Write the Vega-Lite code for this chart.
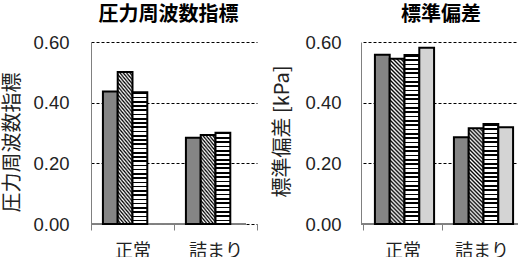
{
  "$schema": "https://vega.github.io/schema/vega-lite/v6.json",
  "padding": {"left": 2, "top": 5, "right": 0, "bottom": 0},
  "background": "white",
  "config": {
    "view": {"stroke": null},
    "font": "Liberation Sans",
    "concat": {"spacing": 14},
    "title": {"font": "Noto Sans CJK JP", "fontSize": 20, "fontWeight": "bold", "color": "#000", "offset": 8},
    "axisY": {
      "grid": true,
      "domainColor": "#808080",
      "ticks": false,
      "labelFontSize": 18.5,
      "labelFont": "Liberation Sans",
      "labelColor": "#222",
      "gridColor": "#000",
      "gridDash": [3, 2],
      "gridWidth": 1,
      "titleFont": "Noto Sans CJK JP",
      "titleFontSize": 20,
      "titleFontWeight": "normal",
      "titleColor": "#222"
    },
    "axisX": {
      "title": null,
      "labelAngle": 0,
      "domain": false,
      "ticks": true,
      "tickBand": "extent",
      "tickSize": 6,
      "tickColor": "#808080",
      "labelPadding": 12,
      "labelFontSize": 18,
      "labelFont": "Noto Sans CJK JP",
      "labelColor": "#222"
    }
  },
  "datasets": {
    "d": [
      {"panel": "p", "cat": "正常", "series": "s1", "value": 0.437},
      {"panel": "p", "cat": "正常", "series": "s2", "value": 0.501},
      {"panel": "p", "cat": "正常", "series": "s3", "value": 0.434},
      {"panel": "p", "cat": "詰まり", "series": "s1", "value": 0.284},
      {"panel": "p", "cat": "詰まり", "series": "s2", "value": 0.293},
      {"panel": "p", "cat": "詰まり", "series": "s3", "value": 0.301},
      {"panel": "s", "cat": "正常", "series": "s1", "value": 0.558},
      {"panel": "s", "cat": "正常", "series": "s2", "value": 0.545},
      {"panel": "s", "cat": "正常", "series": "s3", "value": 0.557},
      {"panel": "s", "cat": "正常", "series": "s4", "value": 0.581},
      {"panel": "s", "cat": "詰まり", "series": "s1", "value": 0.286},
      {"panel": "s", "cat": "詰まり", "series": "s2", "value": 0.316},
      {"panel": "s", "cat": "詰まり", "series": "s3", "value": 0.330},
      {"panel": "s", "cat": "詰まり", "series": "s4", "value": 0.319}
    ]
  },
  "hconcat": [
    {
      "width": 155,
      "height": 182,
      "title": {"text": "圧力周波数指標"},
      "data": {"name": "d"},
      "transform": [{"filter": "datum.panel === 'p'"}],
      "layer": [
        {
          "mark": {"type": "rule", "color": "#808080", "strokeWidth": 1},
          "encoding": {"y": {"datum": 0, "type": "quantitative"}}
        },
        {
          "mark": {"type": "bar", "stroke": "#000", "strokeWidth": 2, "strokeJoin": "miter"},
          "encoding": {
            "x": {"field": "cat", "type": "nominal", "sort": ["正常", "詰まり"], "scale": {"range": [0, 166], "paddingInner": 0, "paddingOuter": 0}},
            "xOffset": {"field": "series", "type": "nominal", "scale": {"paddingInner": 0, "paddingOuter": 0.806}},
            "y": {"field": "value", "type": "quantitative", "scale": {"domain": [0, 0.6]},
              "axis": {"title": "圧力周波数指標", "values": [0, 0.2, 0.4, 0.6], "format": ".2f", "titleY": 100, "grid": true, "labelPadding": 22, "titlePadding": 10}},
            "fill": {
              "condition": [
                {"test": "datum.series === 's3' && datum.cat === '正常'", "value": {"gradient": "linear", "x1": 0, "y1": 0, "x2": 0, "y2": 1, "stops": [
                  {"offset": 0, "color": "#000"}, {"offset": 0.0129, "color": "#000"}, {"offset": 0.0129, "color": "#fff"}, {"offset": 0.0323, "color": "#fff"},
                  {"offset": 0.0323, "color": "#000"}, {"offset": 0.0452, "color": "#000"}, {"offset": 0.0452, "color": "#fff"}, {"offset": 0.0645, "color": "#fff"},
                  {"offset": 0.0645, "color": "#000"}, {"offset": 0.0774, "color": "#000"}, {"offset": 0.0774, "color": "#fff"}, {"offset": 0.0968, "color": "#fff"},
                  {"offset": 0.0968, "color": "#000"}, {"offset": 0.1097, "color": "#000"}, {"offset": 0.1097, "color": "#fff"}, {"offset": 0.1290, "color": "#fff"},
                  {"offset": 0.1290, "color": "#000"}, {"offset": 0.1419, "color": "#000"}, {"offset": 0.1419, "color": "#fff"}, {"offset": 0.1613, "color": "#fff"},
                  {"offset": 0.1613, "color": "#000"}, {"offset": 0.1742, "color": "#000"}, {"offset": 0.1742, "color": "#fff"}, {"offset": 0.1935, "color": "#fff"},
                  {"offset": 0.1935, "color": "#000"}, {"offset": 0.2065, "color": "#000"}, {"offset": 0.2065, "color": "#fff"}, {"offset": 0.2258, "color": "#fff"},
                  {"offset": 0.2258, "color": "#000"}, {"offset": 0.2387, "color": "#000"}, {"offset": 0.2387, "color": "#fff"}, {"offset": 0.2581, "color": "#fff"},
                  {"offset": 0.2581, "color": "#000"}, {"offset": 0.2710, "color": "#000"}, {"offset": 0.2710, "color": "#fff"}, {"offset": 0.2903, "color": "#fff"},
                  {"offset": 0.2903, "color": "#000"}, {"offset": 0.3032, "color": "#000"}, {"offset": 0.3032, "color": "#fff"}, {"offset": 0.3226, "color": "#fff"},
                  {"offset": 0.3226, "color": "#000"}, {"offset": 0.3355, "color": "#000"}, {"offset": 0.3355, "color": "#fff"}, {"offset": 0.3548, "color": "#fff"},
                  {"offset": 0.3548, "color": "#000"}, {"offset": 0.3677, "color": "#000"}, {"offset": 0.3677, "color": "#fff"}, {"offset": 0.3871, "color": "#fff"},
                  {"offset": 0.3871, "color": "#000"}, {"offset": 0.4000, "color": "#000"}, {"offset": 0.4000, "color": "#fff"}, {"offset": 0.4194, "color": "#fff"},
                  {"offset": 0.4194, "color": "#000"}, {"offset": 0.4323, "color": "#000"}, {"offset": 0.4323, "color": "#fff"}, {"offset": 0.4516, "color": "#fff"},
                  {"offset": 0.4516, "color": "#000"}, {"offset": 0.4645, "color": "#000"}, {"offset": 0.4645, "color": "#fff"}, {"offset": 0.4839, "color": "#fff"},
                  {"offset": 0.4839, "color": "#000"}, {"offset": 0.4968, "color": "#000"}, {"offset": 0.4968, "color": "#fff"}, {"offset": 0.5161, "color": "#fff"},
                  {"offset": 0.5161, "color": "#000"}, {"offset": 0.5290, "color": "#000"}, {"offset": 0.5290, "color": "#fff"}, {"offset": 0.5484, "color": "#fff"},
                  {"offset": 0.5484, "color": "#000"}, {"offset": 0.5613, "color": "#000"}, {"offset": 0.5613, "color": "#fff"}, {"offset": 0.5806, "color": "#fff"},
                  {"offset": 0.5806, "color": "#000"}, {"offset": 0.5935, "color": "#000"}, {"offset": 0.5935, "color": "#fff"}, {"offset": 0.6129, "color": "#fff"},
                  {"offset": 0.6129, "color": "#000"}, {"offset": 0.6258, "color": "#000"}, {"offset": 0.6258, "color": "#fff"}, {"offset": 0.6452, "color": "#fff"},
                  {"offset": 0.6452, "color": "#000"}, {"offset": 0.6581, "color": "#000"}, {"offset": 0.6581, "color": "#fff"}, {"offset": 0.6774, "color": "#fff"},
                  {"offset": 0.6774, "color": "#000"}, {"offset": 0.6903, "color": "#000"}, {"offset": 0.6903, "color": "#fff"}, {"offset": 0.7097, "color": "#fff"},
                  {"offset": 0.7097, "color": "#000"}, {"offset": 0.7226, "color": "#000"}, {"offset": 0.7226, "color": "#fff"}, {"offset": 0.7419, "color": "#fff"},
                  {"offset": 0.7419, "color": "#000"}, {"offset": 0.7548, "color": "#000"}, {"offset": 0.7548, "color": "#fff"}, {"offset": 0.7742, "color": "#fff"},
                  {"offset": 0.7742, "color": "#000"}, {"offset": 0.7871, "color": "#000"}, {"offset": 0.7871, "color": "#fff"}, {"offset": 0.8065, "color": "#fff"},
                  {"offset": 0.8065, "color": "#000"}, {"offset": 0.8194, "color": "#000"}, {"offset": 0.8194, "color": "#fff"}, {"offset": 0.8387, "color": "#fff"},
                  {"offset": 0.8387, "color": "#000"}, {"offset": 0.8516, "color": "#000"}, {"offset": 0.8516, "color": "#fff"}, {"offset": 0.8710, "color": "#fff"},
                  {"offset": 0.8710, "color": "#000"}, {"offset": 0.8839, "color": "#000"}, {"offset": 0.8839, "color": "#fff"}, {"offset": 0.9032, "color": "#fff"},
                  {"offset": 0.9032, "color": "#000"}, {"offset": 0.9161, "color": "#000"}, {"offset": 0.9161, "color": "#fff"}, {"offset": 0.9355, "color": "#fff"},
                  {"offset": 0.9355, "color": "#000"}, {"offset": 0.9484, "color": "#000"}, {"offset": 0.9484, "color": "#fff"}, {"offset": 0.9677, "color": "#fff"},
                  {"offset": 0.9677, "color": "#000"}, {"offset": 0.9806, "color": "#000"}, {"offset": 0.9806, "color": "#fff"}, {"offset": 1, "color": "#fff"}
                ]}},
                {"test": "datum.series === 's3'", "value": {"gradient": "linear", "x1": 0, "y1": 0, "x2": 0, "y2": 1, "stops": [
                  {"offset": 0, "color": "#000"}, {"offset": 0.0190, "color": "#000"}, {"offset": 0.0190, "color": "#fff"}, {"offset": 0.0476, "color": "#fff"},
                  {"offset": 0.0476, "color": "#000"}, {"offset": 0.0667, "color": "#000"}, {"offset": 0.0667, "color": "#fff"}, {"offset": 0.0952, "color": "#fff"},
                  {"offset": 0.0952, "color": "#000"}, {"offset": 0.1143, "color": "#000"}, {"offset": 0.1143, "color": "#fff"}, {"offset": 0.1429, "color": "#fff"},
                  {"offset": 0.1429, "color": "#000"}, {"offset": 0.1619, "color": "#000"}, {"offset": 0.1619, "color": "#fff"}, {"offset": 0.1905, "color": "#fff"},
                  {"offset": 0.1905, "color": "#000"}, {"offset": 0.2095, "color": "#000"}, {"offset": 0.2095, "color": "#fff"}, {"offset": 0.2381, "color": "#fff"},
                  {"offset": 0.2381, "color": "#000"}, {"offset": 0.2571, "color": "#000"}, {"offset": 0.2571, "color": "#fff"}, {"offset": 0.2857, "color": "#fff"},
                  {"offset": 0.2857, "color": "#000"}, {"offset": 0.3048, "color": "#000"}, {"offset": 0.3048, "color": "#fff"}, {"offset": 0.3333, "color": "#fff"},
                  {"offset": 0.3333, "color": "#000"}, {"offset": 0.3524, "color": "#000"}, {"offset": 0.3524, "color": "#fff"}, {"offset": 0.3810, "color": "#fff"},
                  {"offset": 0.3810, "color": "#000"}, {"offset": 0.4000, "color": "#000"}, {"offset": 0.4000, "color": "#fff"}, {"offset": 0.4286, "color": "#fff"},
                  {"offset": 0.4286, "color": "#000"}, {"offset": 0.4476, "color": "#000"}, {"offset": 0.4476, "color": "#fff"}, {"offset": 0.4762, "color": "#fff"},
                  {"offset": 0.4762, "color": "#000"}, {"offset": 0.4952, "color": "#000"}, {"offset": 0.4952, "color": "#fff"}, {"offset": 0.5238, "color": "#fff"},
                  {"offset": 0.5238, "color": "#000"}, {"offset": 0.5429, "color": "#000"}, {"offset": 0.5429, "color": "#fff"}, {"offset": 0.5714, "color": "#fff"},
                  {"offset": 0.5714, "color": "#000"}, {"offset": 0.5905, "color": "#000"}, {"offset": 0.5905, "color": "#fff"}, {"offset": 0.6190, "color": "#fff"},
                  {"offset": 0.6190, "color": "#000"}, {"offset": 0.6381, "color": "#000"}, {"offset": 0.6381, "color": "#fff"}, {"offset": 0.6667, "color": "#fff"},
                  {"offset": 0.6667, "color": "#000"}, {"offset": 0.6857, "color": "#000"}, {"offset": 0.6857, "color": "#fff"}, {"offset": 0.7143, "color": "#fff"},
                  {"offset": 0.7143, "color": "#000"}, {"offset": 0.7333, "color": "#000"}, {"offset": 0.7333, "color": "#fff"}, {"offset": 0.7619, "color": "#fff"},
                  {"offset": 0.7619, "color": "#000"}, {"offset": 0.7810, "color": "#000"}, {"offset": 0.7810, "color": "#fff"}, {"offset": 0.8095, "color": "#fff"},
                  {"offset": 0.8095, "color": "#000"}, {"offset": 0.8286, "color": "#000"}, {"offset": 0.8286, "color": "#fff"}, {"offset": 0.8571, "color": "#fff"},
                  {"offset": 0.8571, "color": "#000"}, {"offset": 0.8762, "color": "#000"}, {"offset": 0.8762, "color": "#fff"}, {"offset": 0.9048, "color": "#fff"},
                  {"offset": 0.9048, "color": "#000"}, {"offset": 0.9238, "color": "#000"}, {"offset": 0.9238, "color": "#fff"}, {"offset": 0.9524, "color": "#fff"},
                  {"offset": 0.9524, "color": "#000"}, {"offset": 0.9714, "color": "#000"}, {"offset": 0.9714, "color": "#fff"}, {"offset": 1, "color": "#fff"}
                ]}},
                {"test": "datum.series === 's2' && datum.cat === '正常'", "value": {"gradient": "linear", "x1": 0, "y1": 1, "x2": 0.1306, "y2": -0.1029, "stops": [
                  {"offset": 0, "color": "#000"}, {"offset": 0.0119, "color": "#fff"}, {"offset": 0.0238, "color": "#000"}, {"offset": 0.0357, "color": "#fff"},
                  {"offset": 0.0476, "color": "#000"}, {"offset": 0.0595, "color": "#fff"}, {"offset": 0.0714, "color": "#000"}, {"offset": 0.0833, "color": "#fff"},
                  {"offset": 0.0952, "color": "#000"}, {"offset": 0.1071, "color": "#fff"}, {"offset": 0.1190, "color": "#000"}, {"offset": 0.1310, "color": "#fff"},
                  {"offset": 0.1429, "color": "#000"}, {"offset": 0.1548, "color": "#fff"}, {"offset": 0.1667, "color": "#000"}, {"offset": 0.1786, "color": "#fff"},
                  {"offset": 0.1905, "color": "#000"}, {"offset": 0.2024, "color": "#fff"}, {"offset": 0.2143, "color": "#000"}, {"offset": 0.2262, "color": "#fff"},
                  {"offset": 0.2381, "color": "#000"}, {"offset": 0.2500, "color": "#fff"}, {"offset": 0.2619, "color": "#000"}, {"offset": 0.2738, "color": "#fff"},
                  {"offset": 0.2857, "color": "#000"}, {"offset": 0.2976, "color": "#fff"}, {"offset": 0.3095, "color": "#000"}, {"offset": 0.3214, "color": "#fff"},
                  {"offset": 0.3333, "color": "#000"}, {"offset": 0.3452, "color": "#fff"}, {"offset": 0.3571, "color": "#000"}, {"offset": 0.3690, "color": "#fff"},
                  {"offset": 0.3810, "color": "#000"}, {"offset": 0.3929, "color": "#fff"}, {"offset": 0.4048, "color": "#000"}, {"offset": 0.4167, "color": "#fff"},
                  {"offset": 0.4286, "color": "#000"}, {"offset": 0.4405, "color": "#fff"}, {"offset": 0.4524, "color": "#000"}, {"offset": 0.4643, "color": "#fff"},
                  {"offset": 0.4762, "color": "#000"}, {"offset": 0.4881, "color": "#fff"}, {"offset": 0.5000, "color": "#000"}, {"offset": 0.5119, "color": "#fff"},
                  {"offset": 0.5238, "color": "#000"}, {"offset": 0.5357, "color": "#fff"}, {"offset": 0.5476, "color": "#000"}, {"offset": 0.5595, "color": "#fff"},
                  {"offset": 0.5714, "color": "#000"}, {"offset": 0.5833, "color": "#fff"}, {"offset": 0.5952, "color": "#000"}, {"offset": 0.6071, "color": "#fff"},
                  {"offset": 0.6190, "color": "#000"}, {"offset": 0.6310, "color": "#fff"}, {"offset": 0.6429, "color": "#000"}, {"offset": 0.6548, "color": "#fff"},
                  {"offset": 0.6667, "color": "#000"}, {"offset": 0.6786, "color": "#fff"}, {"offset": 0.6905, "color": "#000"}, {"offset": 0.7024, "color": "#fff"},
                  {"offset": 0.7143, "color": "#000"}, {"offset": 0.7262, "color": "#fff"}, {"offset": 0.7381, "color": "#000"}, {"offset": 0.7500, "color": "#fff"},
                  {"offset": 0.7619, "color": "#000"}, {"offset": 0.7738, "color": "#fff"}, {"offset": 0.7857, "color": "#000"}, {"offset": 0.7976, "color": "#fff"},
                  {"offset": 0.8095, "color": "#000"}, {"offset": 0.8214, "color": "#fff"}, {"offset": 0.8333, "color": "#000"}, {"offset": 0.8452, "color": "#fff"},
                  {"offset": 0.8571, "color": "#000"}, {"offset": 0.8690, "color": "#fff"}, {"offset": 0.8810, "color": "#000"}, {"offset": 0.8929, "color": "#fff"},
                  {"offset": 0.9048, "color": "#000"}, {"offset": 0.9167, "color": "#fff"}, {"offset": 0.9286, "color": "#000"}, {"offset": 0.9405, "color": "#fff"},
                  {"offset": 0.9524, "color": "#000"}, {"offset": 0.9643, "color": "#fff"}, {"offset": 0.9762, "color": "#000"}, {"offset": 0.9881, "color": "#fff"},
                  {"offset": 1, "color": "#000"}
                ]}},
                {"test": "datum.series === 's2'", "value": {"gradient": "linear", "x1": 0, "y1": 1, "x2": 0.2339, "y2": -0.1552, "stops": [
                  {"offset": 0, "color": "#000"}, {"offset": 0.0185, "color": "#fff"}, {"offset": 0.0370, "color": "#000"}, {"offset": 0.0556, "color": "#fff"},
                  {"offset": 0.0741, "color": "#000"}, {"offset": 0.0926, "color": "#fff"}, {"offset": 0.1111, "color": "#000"}, {"offset": 0.1296, "color": "#fff"},
                  {"offset": 0.1481, "color": "#000"}, {"offset": 0.1667, "color": "#fff"}, {"offset": 0.1852, "color": "#000"}, {"offset": 0.2037, "color": "#fff"},
                  {"offset": 0.2222, "color": "#000"}, {"offset": 0.2407, "color": "#fff"}, {"offset": 0.2593, "color": "#000"}, {"offset": 0.2778, "color": "#fff"},
                  {"offset": 0.2963, "color": "#000"}, {"offset": 0.3148, "color": "#fff"}, {"offset": 0.3333, "color": "#000"}, {"offset": 0.3519, "color": "#fff"},
                  {"offset": 0.3704, "color": "#000"}, {"offset": 0.3889, "color": "#fff"}, {"offset": 0.4074, "color": "#000"}, {"offset": 0.4259, "color": "#fff"},
                  {"offset": 0.4444, "color": "#000"}, {"offset": 0.4630, "color": "#fff"}, {"offset": 0.4815, "color": "#000"}, {"offset": 0.5000, "color": "#fff"},
                  {"offset": 0.5185, "color": "#000"}, {"offset": 0.5370, "color": "#fff"}, {"offset": 0.5556, "color": "#000"}, {"offset": 0.5741, "color": "#fff"},
                  {"offset": 0.5926, "color": "#000"}, {"offset": 0.6111, "color": "#fff"}, {"offset": 0.6296, "color": "#000"}, {"offset": 0.6481, "color": "#fff"},
                  {"offset": 0.6667, "color": "#000"}, {"offset": 0.6852, "color": "#fff"}, {"offset": 0.7037, "color": "#000"}, {"offset": 0.7222, "color": "#fff"},
                  {"offset": 0.7407, "color": "#000"}, {"offset": 0.7593, "color": "#fff"}, {"offset": 0.7778, "color": "#000"}, {"offset": 0.7963, "color": "#fff"},
                  {"offset": 0.8148, "color": "#000"}, {"offset": 0.8333, "color": "#fff"}, {"offset": 0.8519, "color": "#000"}, {"offset": 0.8704, "color": "#fff"},
                  {"offset": 0.8889, "color": "#000"}, {"offset": 0.9074, "color": "#fff"}, {"offset": 0.9259, "color": "#000"}, {"offset": 0.9444, "color": "#fff"},
                  {"offset": 0.9630, "color": "#000"}, {"offset": 0.9815, "color": "#fff"}, {"offset": 1, "color": "#000"}
                ]}}
              ],
              "value": "#858585"
            }
          }
        }
      ]
    },
    {
      "width": 160,
      "height": 182,
      "title": {"text": "標準偏差"},
      "data": {"name": "d"},
      "transform": [{"filter": "datum.panel === 's'"}],
      "layer": [
        {
          "mark": {"type": "rule", "color": "#808080", "strokeWidth": 1},
          "encoding": {"y": {"datum": 0, "type": "quantitative"}}
        },
        {
          "mark": {"type": "bar", "stroke": "#000", "strokeWidth": 2, "strokeJoin": "miter"},
          "encoding": {
            "x": {"field": "cat", "type": "nominal", "sort": ["正常", "詰まり"], "scale": {"range": [2, 160], "paddingInner": 0, "paddingOuter": 0}},
            "xOffset": {"field": "series", "type": "nominal", "scale": {"paddingInner": 0, "paddingOuter": 0.633}},
            "y": {"field": "value", "type": "quantitative", "scale": {"domain": [0, 0.6]},
              "axis": {"title": "標準偏差 [kPa]", "values": [0, 0.2, 0.4, 0.6], "format": ".2f", "titleY": 89, "grid": true, "labelPadding": 20, "titlePadding": 12}},
            "fill": {
              "condition": [
                {"test": "datum.series === 's3' && datum.cat === '正常'", "value": {"gradient": "linear", "x1": 0, "y1": 0, "x2": 0, "y2": 1, "stops": [
                  {"offset": 0, "color": "#000"}, {"offset": 0.0103, "color": "#000"}, {"offset": 0.0103, "color": "#fff"}, {"offset": 0.0256, "color": "#fff"},
                  {"offset": 0.0256, "color": "#000"}, {"offset": 0.0359, "color": "#000"}, {"offset": 0.0359, "color": "#fff"}, {"offset": 0.0513, "color": "#fff"},
                  {"offset": 0.0513, "color": "#000"}, {"offset": 0.0615, "color": "#000"}, {"offset": 0.0615, "color": "#fff"}, {"offset": 0.0769, "color": "#fff"},
                  {"offset": 0.0769, "color": "#000"}, {"offset": 0.0872, "color": "#000"}, {"offset": 0.0872, "color": "#fff"}, {"offset": 0.1026, "color": "#fff"},
                  {"offset": 0.1026, "color": "#000"}, {"offset": 0.1128, "color": "#000"}, {"offset": 0.1128, "color": "#fff"}, {"offset": 0.1282, "color": "#fff"},
                  {"offset": 0.1282, "color": "#000"}, {"offset": 0.1385, "color": "#000"}, {"offset": 0.1385, "color": "#fff"}, {"offset": 0.1538, "color": "#fff"},
                  {"offset": 0.1538, "color": "#000"}, {"offset": 0.1641, "color": "#000"}, {"offset": 0.1641, "color": "#fff"}, {"offset": 0.1795, "color": "#fff"},
                  {"offset": 0.1795, "color": "#000"}, {"offset": 0.1897, "color": "#000"}, {"offset": 0.1897, "color": "#fff"}, {"offset": 0.2051, "color": "#fff"},
                  {"offset": 0.2051, "color": "#000"}, {"offset": 0.2154, "color": "#000"}, {"offset": 0.2154, "color": "#fff"}, {"offset": 0.2308, "color": "#fff"},
                  {"offset": 0.2308, "color": "#000"}, {"offset": 0.2410, "color": "#000"}, {"offset": 0.2410, "color": "#fff"}, {"offset": 0.2564, "color": "#fff"},
                  {"offset": 0.2564, "color": "#000"}, {"offset": 0.2667, "color": "#000"}, {"offset": 0.2667, "color": "#fff"}, {"offset": 0.2821, "color": "#fff"},
                  {"offset": 0.2821, "color": "#000"}, {"offset": 0.2923, "color": "#000"}, {"offset": 0.2923, "color": "#fff"}, {"offset": 0.3077, "color": "#fff"},
                  {"offset": 0.3077, "color": "#000"}, {"offset": 0.3179, "color": "#000"}, {"offset": 0.3179, "color": "#fff"}, {"offset": 0.3333, "color": "#fff"},
                  {"offset": 0.3333, "color": "#000"}, {"offset": 0.3436, "color": "#000"}, {"offset": 0.3436, "color": "#fff"}, {"offset": 0.3590, "color": "#fff"},
                  {"offset": 0.3590, "color": "#000"}, {"offset": 0.3692, "color": "#000"}, {"offset": 0.3692, "color": "#fff"}, {"offset": 0.3846, "color": "#fff"},
                  {"offset": 0.3846, "color": "#000"}, {"offset": 0.3949, "color": "#000"}, {"offset": 0.3949, "color": "#fff"}, {"offset": 0.4103, "color": "#fff"},
                  {"offset": 0.4103, "color": "#000"}, {"offset": 0.4205, "color": "#000"}, {"offset": 0.4205, "color": "#fff"}, {"offset": 0.4359, "color": "#fff"},
                  {"offset": 0.4359, "color": "#000"}, {"offset": 0.4462, "color": "#000"}, {"offset": 0.4462, "color": "#fff"}, {"offset": 0.4615, "color": "#fff"},
                  {"offset": 0.4615, "color": "#000"}, {"offset": 0.4718, "color": "#000"}, {"offset": 0.4718, "color": "#fff"}, {"offset": 0.4872, "color": "#fff"},
                  {"offset": 0.4872, "color": "#000"}, {"offset": 0.4974, "color": "#000"}, {"offset": 0.4974, "color": "#fff"}, {"offset": 0.5128, "color": "#fff"},
                  {"offset": 0.5128, "color": "#000"}, {"offset": 0.5231, "color": "#000"}, {"offset": 0.5231, "color": "#fff"}, {"offset": 0.5385, "color": "#fff"},
                  {"offset": 0.5385, "color": "#000"}, {"offset": 0.5487, "color": "#000"}, {"offset": 0.5487, "color": "#fff"}, {"offset": 0.5641, "color": "#fff"},
                  {"offset": 0.5641, "color": "#000"}, {"offset": 0.5744, "color": "#000"}, {"offset": 0.5744, "color": "#fff"}, {"offset": 0.5897, "color": "#fff"},
                  {"offset": 0.5897, "color": "#000"}, {"offset": 0.6000, "color": "#000"}, {"offset": 0.6000, "color": "#fff"}, {"offset": 0.6154, "color": "#fff"},
                  {"offset": 0.6154, "color": "#000"}, {"offset": 0.6256, "color": "#000"}, {"offset": 0.6256, "color": "#fff"}, {"offset": 0.6410, "color": "#fff"},
                  {"offset": 0.6410, "color": "#000"}, {"offset": 0.6513, "color": "#000"}, {"offset": 0.6513, "color": "#fff"}, {"offset": 0.6667, "color": "#fff"},
                  {"offset": 0.6667, "color": "#000"}, {"offset": 0.6769, "color": "#000"}, {"offset": 0.6769, "color": "#fff"}, {"offset": 0.6923, "color": "#fff"},
                  {"offset": 0.6923, "color": "#000"}, {"offset": 0.7026, "color": "#000"}, {"offset": 0.7026, "color": "#fff"}, {"offset": 0.7179, "color": "#fff"},
                  {"offset": 0.7179, "color": "#000"}, {"offset": 0.7282, "color": "#000"}, {"offset": 0.7282, "color": "#fff"}, {"offset": 0.7436, "color": "#fff"},
                  {"offset": 0.7436, "color": "#000"}, {"offset": 0.7538, "color": "#000"}, {"offset": 0.7538, "color": "#fff"}, {"offset": 0.7692, "color": "#fff"},
                  {"offset": 0.7692, "color": "#000"}, {"offset": 0.7795, "color": "#000"}, {"offset": 0.7795, "color": "#fff"}, {"offset": 0.7949, "color": "#fff"},
                  {"offset": 0.7949, "color": "#000"}, {"offset": 0.8051, "color": "#000"}, {"offset": 0.8051, "color": "#fff"}, {"offset": 0.8205, "color": "#fff"},
                  {"offset": 0.8205, "color": "#000"}, {"offset": 0.8308, "color": "#000"}, {"offset": 0.8308, "color": "#fff"}, {"offset": 0.8462, "color": "#fff"},
                  {"offset": 0.8462, "color": "#000"}, {"offset": 0.8564, "color": "#000"}, {"offset": 0.8564, "color": "#fff"}, {"offset": 0.8718, "color": "#fff"},
                  {"offset": 0.8718, "color": "#000"}, {"offset": 0.8821, "color": "#000"}, {"offset": 0.8821, "color": "#fff"}, {"offset": 0.8974, "color": "#fff"},
                  {"offset": 0.8974, "color": "#000"}, {"offset": 0.9077, "color": "#000"}, {"offset": 0.9077, "color": "#fff"}, {"offset": 0.9231, "color": "#fff"},
                  {"offset": 0.9231, "color": "#000"}, {"offset": 0.9333, "color": "#000"}, {"offset": 0.9333, "color": "#fff"}, {"offset": 0.9487, "color": "#fff"},
                  {"offset": 0.9487, "color": "#000"}, {"offset": 0.9590, "color": "#000"}, {"offset": 0.9590, "color": "#fff"}, {"offset": 0.9744, "color": "#fff"},
                  {"offset": 0.9744, "color": "#000"}, {"offset": 0.9846, "color": "#000"}, {"offset": 0.9846, "color": "#fff"}, {"offset": 1, "color": "#fff"}
                ]}},
                {"test": "datum.series === 's3'", "value": {"gradient": "linear", "x1": 0, "y1": 0, "x2": 0, "y2": 1, "stops": [
                  {"offset": 0, "color": "#000"}, {"offset": 0.0174, "color": "#000"}, {"offset": 0.0174, "color": "#fff"}, {"offset": 0.0435, "color": "#fff"},
                  {"offset": 0.0435, "color": "#000"}, {"offset": 0.0609, "color": "#000"}, {"offset": 0.0609, "color": "#fff"}, {"offset": 0.0870, "color": "#fff"},
                  {"offset": 0.0870, "color": "#000"}, {"offset": 0.1043, "color": "#000"}, {"offset": 0.1043, "color": "#fff"}, {"offset": 0.1304, "color": "#fff"},
                  {"offset": 0.1304, "color": "#000"}, {"offset": 0.1478, "color": "#000"}, {"offset": 0.1478, "color": "#fff"}, {"offset": 0.1739, "color": "#fff"},
                  {"offset": 0.1739, "color": "#000"}, {"offset": 0.1913, "color": "#000"}, {"offset": 0.1913, "color": "#fff"}, {"offset": 0.2174, "color": "#fff"},
                  {"offset": 0.2174, "color": "#000"}, {"offset": 0.2348, "color": "#000"}, {"offset": 0.2348, "color": "#fff"}, {"offset": 0.2609, "color": "#fff"},
                  {"offset": 0.2609, "color": "#000"}, {"offset": 0.2783, "color": "#000"}, {"offset": 0.2783, "color": "#fff"}, {"offset": 0.3043, "color": "#fff"},
                  {"offset": 0.3043, "color": "#000"}, {"offset": 0.3217, "color": "#000"}, {"offset": 0.3217, "color": "#fff"}, {"offset": 0.3478, "color": "#fff"},
                  {"offset": 0.3478, "color": "#000"}, {"offset": 0.3652, "color": "#000"}, {"offset": 0.3652, "color": "#fff"}, {"offset": 0.3913, "color": "#fff"},
                  {"offset": 0.3913, "color": "#000"}, {"offset": 0.4087, "color": "#000"}, {"offset": 0.4087, "color": "#fff"}, {"offset": 0.4348, "color": "#fff"},
                  {"offset": 0.4348, "color": "#000"}, {"offset": 0.4522, "color": "#000"}, {"offset": 0.4522, "color": "#fff"}, {"offset": 0.4783, "color": "#fff"},
                  {"offset": 0.4783, "color": "#000"}, {"offset": 0.4957, "color": "#000"}, {"offset": 0.4957, "color": "#fff"}, {"offset": 0.5217, "color": "#fff"},
                  {"offset": 0.5217, "color": "#000"}, {"offset": 0.5391, "color": "#000"}, {"offset": 0.5391, "color": "#fff"}, {"offset": 0.5652, "color": "#fff"},
                  {"offset": 0.5652, "color": "#000"}, {"offset": 0.5826, "color": "#000"}, {"offset": 0.5826, "color": "#fff"}, {"offset": 0.6087, "color": "#fff"},
                  {"offset": 0.6087, "color": "#000"}, {"offset": 0.6261, "color": "#000"}, {"offset": 0.6261, "color": "#fff"}, {"offset": 0.6522, "color": "#fff"},
                  {"offset": 0.6522, "color": "#000"}, {"offset": 0.6696, "color": "#000"}, {"offset": 0.6696, "color": "#fff"}, {"offset": 0.6957, "color": "#fff"},
                  {"offset": 0.6957, "color": "#000"}, {"offset": 0.7130, "color": "#000"}, {"offset": 0.7130, "color": "#fff"}, {"offset": 0.7391, "color": "#fff"},
                  {"offset": 0.7391, "color": "#000"}, {"offset": 0.7565, "color": "#000"}, {"offset": 0.7565, "color": "#fff"}, {"offset": 0.7826, "color": "#fff"},
                  {"offset": 0.7826, "color": "#000"}, {"offset": 0.8000, "color": "#000"}, {"offset": 0.8000, "color": "#fff"}, {"offset": 0.8261, "color": "#fff"},
                  {"offset": 0.8261, "color": "#000"}, {"offset": 0.8435, "color": "#000"}, {"offset": 0.8435, "color": "#fff"}, {"offset": 0.8696, "color": "#fff"},
                  {"offset": 0.8696, "color": "#000"}, {"offset": 0.8870, "color": "#000"}, {"offset": 0.8870, "color": "#fff"}, {"offset": 0.9130, "color": "#fff"},
                  {"offset": 0.9130, "color": "#000"}, {"offset": 0.9304, "color": "#000"}, {"offset": 0.9304, "color": "#fff"}, {"offset": 0.9565, "color": "#fff"},
                  {"offset": 0.9565, "color": "#000"}, {"offset": 0.9739, "color": "#000"}, {"offset": 0.9739, "color": "#fff"}, {"offset": 1, "color": "#fff"}
                ]}},
                {"test": "datum.series === 's2' && datum.cat === '正常'", "value": {"gradient": "linear", "x1": 0, "y1": 1, "x2": 0.0982, "y2": -0.0819, "stops": [
                  {"offset": 0, "color": "#000"}, {"offset": 0.0111, "color": "#fff"}, {"offset": 0.0222, "color": "#000"}, {"offset": 0.0333, "color": "#fff"},
                  {"offset": 0.0444, "color": "#000"}, {"offset": 0.0556, "color": "#fff"}, {"offset": 0.0667, "color": "#000"}, {"offset": 0.0778, "color": "#fff"},
                  {"offset": 0.0889, "color": "#000"}, {"offset": 0.1000, "color": "#fff"}, {"offset": 0.1111, "color": "#000"}, {"offset": 0.1222, "color": "#fff"},
                  {"offset": 0.1333, "color": "#000"}, {"offset": 0.1444, "color": "#fff"}, {"offset": 0.1556, "color": "#000"}, {"offset": 0.1667, "color": "#fff"},
                  {"offset": 0.1778, "color": "#000"}, {"offset": 0.1889, "color": "#fff"}, {"offset": 0.2000, "color": "#000"}, {"offset": 0.2111, "color": "#fff"},
                  {"offset": 0.2222, "color": "#000"}, {"offset": 0.2333, "color": "#fff"}, {"offset": 0.2444, "color": "#000"}, {"offset": 0.2556, "color": "#fff"},
                  {"offset": 0.2667, "color": "#000"}, {"offset": 0.2778, "color": "#fff"}, {"offset": 0.2889, "color": "#000"}, {"offset": 0.3000, "color": "#fff"},
                  {"offset": 0.3111, "color": "#000"}, {"offset": 0.3222, "color": "#fff"}, {"offset": 0.3333, "color": "#000"}, {"offset": 0.3444, "color": "#fff"},
                  {"offset": 0.3556, "color": "#000"}, {"offset": 0.3667, "color": "#fff"}, {"offset": 0.3778, "color": "#000"}, {"offset": 0.3889, "color": "#fff"},
                  {"offset": 0.4000, "color": "#000"}, {"offset": 0.4111, "color": "#fff"}, {"offset": 0.4222, "color": "#000"}, {"offset": 0.4333, "color": "#fff"},
                  {"offset": 0.4444, "color": "#000"}, {"offset": 0.4556, "color": "#fff"}, {"offset": 0.4667, "color": "#000"}, {"offset": 0.4778, "color": "#fff"},
                  {"offset": 0.4889, "color": "#000"}, {"offset": 0.5000, "color": "#fff"}, {"offset": 0.5111, "color": "#000"}, {"offset": 0.5222, "color": "#fff"},
                  {"offset": 0.5333, "color": "#000"}, {"offset": 0.5444, "color": "#fff"}, {"offset": 0.5556, "color": "#000"}, {"offset": 0.5667, "color": "#fff"},
                  {"offset": 0.5778, "color": "#000"}, {"offset": 0.5889, "color": "#fff"}, {"offset": 0.6000, "color": "#000"}, {"offset": 0.6111, "color": "#fff"},
                  {"offset": 0.6222, "color": "#000"}, {"offset": 0.6333, "color": "#fff"}, {"offset": 0.6444, "color": "#000"}, {"offset": 0.6556, "color": "#fff"},
                  {"offset": 0.6667, "color": "#000"}, {"offset": 0.6778, "color": "#fff"}, {"offset": 0.6889, "color": "#000"}, {"offset": 0.7000, "color": "#fff"},
                  {"offset": 0.7111, "color": "#000"}, {"offset": 0.7222, "color": "#fff"}, {"offset": 0.7333, "color": "#000"}, {"offset": 0.7444, "color": "#fff"},
                  {"offset": 0.7556, "color": "#000"}, {"offset": 0.7667, "color": "#fff"}, {"offset": 0.7778, "color": "#000"}, {"offset": 0.7889, "color": "#fff"},
                  {"offset": 0.8000, "color": "#000"}, {"offset": 0.8111, "color": "#fff"}, {"offset": 0.8222, "color": "#000"}, {"offset": 0.8333, "color": "#fff"},
                  {"offset": 0.8444, "color": "#000"}, {"offset": 0.8556, "color": "#fff"}, {"offset": 0.8667, "color": "#000"}, {"offset": 0.8778, "color": "#fff"},
                  {"offset": 0.8889, "color": "#000"}, {"offset": 0.9000, "color": "#fff"}, {"offset": 0.9111, "color": "#000"}, {"offset": 0.9222, "color": "#fff"},
                  {"offset": 0.9333, "color": "#000"}, {"offset": 0.9444, "color": "#fff"}, {"offset": 0.9556, "color": "#000"}, {"offset": 0.9667, "color": "#fff"},
                  {"offset": 0.9778, "color": "#000"}, {"offset": 0.9889, "color": "#fff"}, {"offset": 1, "color": "#000"}
                ]}},
                {"test": "datum.series === 's2'", "value": {"gradient": "linear", "x1": 0, "y1": 1, "x2": 0.1768, "y2": -0.1289, "stops": [
                  {"offset": 0, "color": "#000"}, {"offset": 0.0179, "color": "#fff"}, {"offset": 0.0357, "color": "#000"}, {"offset": 0.0536, "color": "#fff"},
                  {"offset": 0.0714, "color": "#000"}, {"offset": 0.0893, "color": "#fff"}, {"offset": 0.1071, "color": "#000"}, {"offset": 0.1250, "color": "#fff"},
                  {"offset": 0.1429, "color": "#000"}, {"offset": 0.1607, "color": "#fff"}, {"offset": 0.1786, "color": "#000"}, {"offset": 0.1964, "color": "#fff"},
                  {"offset": 0.2143, "color": "#000"}, {"offset": 0.2321, "color": "#fff"}, {"offset": 0.2500, "color": "#000"}, {"offset": 0.2679, "color": "#fff"},
                  {"offset": 0.2857, "color": "#000"}, {"offset": 0.3036, "color": "#fff"}, {"offset": 0.3214, "color": "#000"}, {"offset": 0.3393, "color": "#fff"},
                  {"offset": 0.3571, "color": "#000"}, {"offset": 0.3750, "color": "#fff"}, {"offset": 0.3929, "color": "#000"}, {"offset": 0.4107, "color": "#fff"},
                  {"offset": 0.4286, "color": "#000"}, {"offset": 0.4464, "color": "#fff"}, {"offset": 0.4643, "color": "#000"}, {"offset": 0.4821, "color": "#fff"},
                  {"offset": 0.5000, "color": "#000"}, {"offset": 0.5179, "color": "#fff"}, {"offset": 0.5357, "color": "#000"}, {"offset": 0.5536, "color": "#fff"},
                  {"offset": 0.5714, "color": "#000"}, {"offset": 0.5893, "color": "#fff"}, {"offset": 0.6071, "color": "#000"}, {"offset": 0.6250, "color": "#fff"},
                  {"offset": 0.6429, "color": "#000"}, {"offset": 0.6607, "color": "#fff"}, {"offset": 0.6786, "color": "#000"}, {"offset": 0.6964, "color": "#fff"},
                  {"offset": 0.7143, "color": "#000"}, {"offset": 0.7321, "color": "#fff"}, {"offset": 0.7500, "color": "#000"}, {"offset": 0.7679, "color": "#fff"},
                  {"offset": 0.7857, "color": "#000"}, {"offset": 0.8036, "color": "#fff"}, {"offset": 0.8214, "color": "#000"}, {"offset": 0.8393, "color": "#fff"},
                  {"offset": 0.8571, "color": "#000"}, {"offset": 0.8750, "color": "#fff"}, {"offset": 0.8929, "color": "#000"}, {"offset": 0.9107, "color": "#fff"},
                  {"offset": 0.9286, "color": "#000"}, {"offset": 0.9464, "color": "#fff"}, {"offset": 0.9643, "color": "#000"}, {"offset": 0.9821, "color": "#fff"},
                  {"offset": 1, "color": "#000"}
                ]}},
                {"test": "datum.series === 's4'", "value": "#d4d4d4"}
              ],
              "value": "#858585"
            }
          }
        }
      ]
    }
  ]
}
